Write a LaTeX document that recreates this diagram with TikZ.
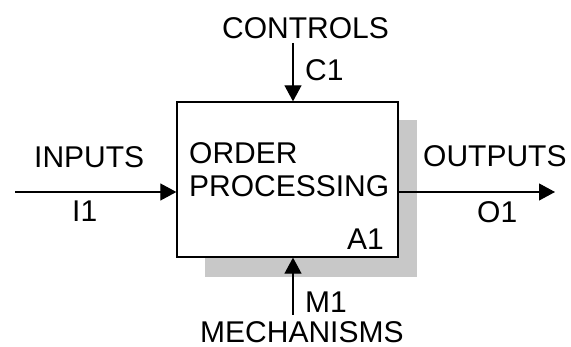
\documentclass[tikz,border=0pt]{standalone}
\usepackage{fontspec}
\setmainfont{Liberation Sans}
\usetikzlibrary{arrows.meta}
\definecolor{shadowgray}{HTML}{C8C8C8}
\tikzset{
  lbl/.style={anchor=base west, inner sep=0pt, font=\fontsize{30}{33}\selectfont},
  flow/.style={line width=1.1pt, -{Triangle[length=16pt,width=17pt]}},
}
\begin{document}
\begin{tikzpicture}[x=1pt, y=-1pt]
  \useasboundingbox (0,0) rectangle (571,347);
  % drop shadow behind the activity box
  \fill[shadowgray] (205,120) rectangle (417,277);
  % activity box
  \node[draw, line width=1.3pt, fill=white, minimum width=221pt, minimum height=155pt,
        inner sep=0pt] (act) at (287.5,179.5) {};
  \node[lbl] at (189,164) {ORDER};
  \node[lbl] at (189,197) {PROCESSING};
  \node[lbl, anchor=base east] at (384,250) {A1};
  % free ends of the four ICOM arrows
  \coordinate (cin) at (293,43);
  \coordinate (iin) at (15,192);
  \coordinate (oout) at (555,192);
  \coordinate (min) at (293,315);
  \draw[flow] (cin) -- (cin |- act.north);
  \draw[flow] (iin) -- (act.west |- iin);
  \draw[flow] (act.east |- oout) -- (oout);
  \draw[flow] (min) -- (min |- act.south);
  % arrow labels
  \node[lbl] (ctl) at (222,39) {CONTROLS};
  \node[lbl] (c1) at (305,80.5) {C1};
  \node[lbl] (inp) at (34,168) {INPUTS};
  \node[lbl] (i1) at (72,222) {I1};
  \node[lbl] (outp) at (423,167) {OUTPUTS};
  \node[lbl] (o1) at (477,223) {O1};
  \node[lbl] (m1) at (305,313) {M1};
  \node[lbl] (mech) at (200,343) {MECHANISMS};
\end{tikzpicture}
\end{document}
